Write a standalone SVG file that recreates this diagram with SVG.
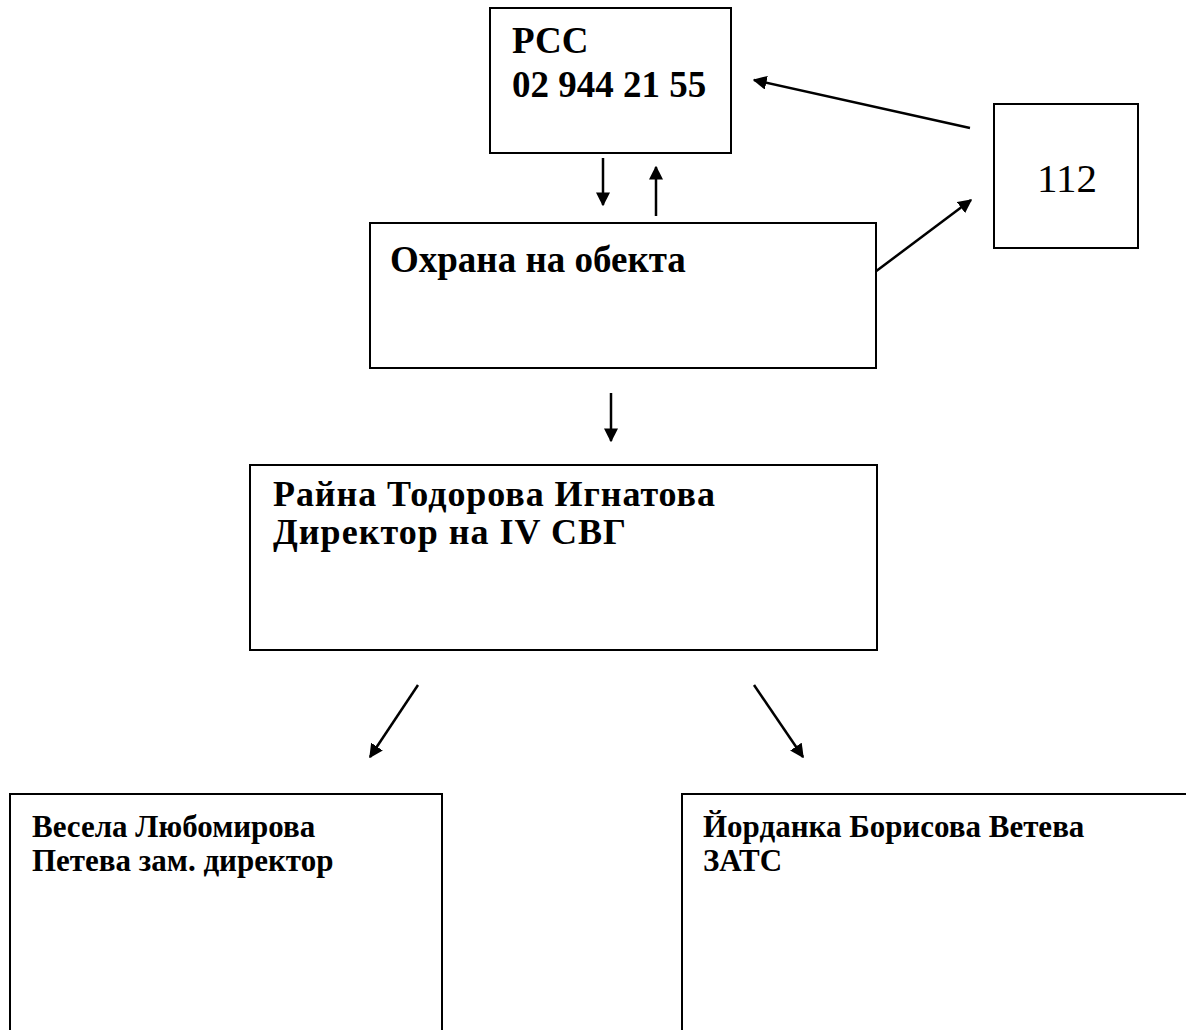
<svg xmlns="http://www.w3.org/2000/svg" width="1186" height="1030" viewBox="0 0 1186 1030">
<defs>
<style>
.box{fill:#fff;stroke:#000;stroke-width:2}
.t{font-family:"Liberation Serif","Times New Roman",serif;font-weight:bold;fill:#000}
.r{font-family:"Liberation Serif","Times New Roman",serif;fill:#000}
.ln{stroke:#000;stroke-width:2.5;fill:none;marker-end:url(#ah)}
</style>
<marker id="ah" viewBox="0 0 10 10" refX="9" refY="5" markerWidth="14" markerHeight="14" orient="auto" markerUnits="userSpaceOnUse">
<path d="M0,0 L10,5 L0,10 z" fill="#000"/>
</marker>
</defs>
<rect width="1186" height="1030" fill="#fff"/>
<g id="connectors">
<line class="ln" x1="603" y1="158" x2="603" y2="205"/>
<line class="ln" x1="656" y1="216" x2="656" y2="167"/>
<line class="ln" x1="970" y1="128" x2="754" y2="80"/>
<line class="ln" x1="875" y1="272" x2="971" y2="200"/>
<line class="ln" x1="611" y1="393" x2="611" y2="441"/>
<line class="ln" x1="418" y1="685" x2="370" y2="757"/>
<line class="ln" x1="754" y1="685" x2="803" y2="757"/>
</g>
<g id="node-rcc">
<rect class="box" x="490" y="8" width="241" height="145"/>
<text class="t" x="512" y="53" font-size="37">РСС</text>
<text class="t" x="512" y="97" font-size="37">02 944 21 55</text>
</g>
<g id="node-112">
<rect class="box" x="994" y="104" width="144" height="144"/>
<text class="r" x="1067" y="192" font-size="41" text-anchor="middle">112</text>
</g>
<g id="node-ohrana">
<rect class="box" x="370" y="223" width="506" height="145"/>
<text class="t" x="390" y="272" font-size="37">Охрана на обекта</text>
</g>
<g id="node-director">
<rect class="box" x="250" y="465" width="627" height="185"/>
<text class="t" x="273" y="506" font-size="36" textLength="442" lengthAdjust="spacing">Райна Тодорова Игнатова</text>
<text class="t" x="273" y="544" font-size="36" textLength="353" lengthAdjust="spacing">Директор на IV СВГ</text>
</g>
<g id="node-zam">
<rect class="box" x="10" y="794" width="432" height="250"/>
<text class="t" x="32" y="837" font-size="31">Весела Любомирова</text>
<text class="t" x="32" y="871" font-size="31">Петева зам. директор</text>
</g>
<g id="node-zats">
<rect class="box" x="682" y="794" width="520" height="250"/>
<text class="t" x="703" y="837" font-size="31">Йорданка Борисова Ветева</text>
<text class="t" x="703" y="871" font-size="31">ЗАТС</text>
</g>
</svg>
